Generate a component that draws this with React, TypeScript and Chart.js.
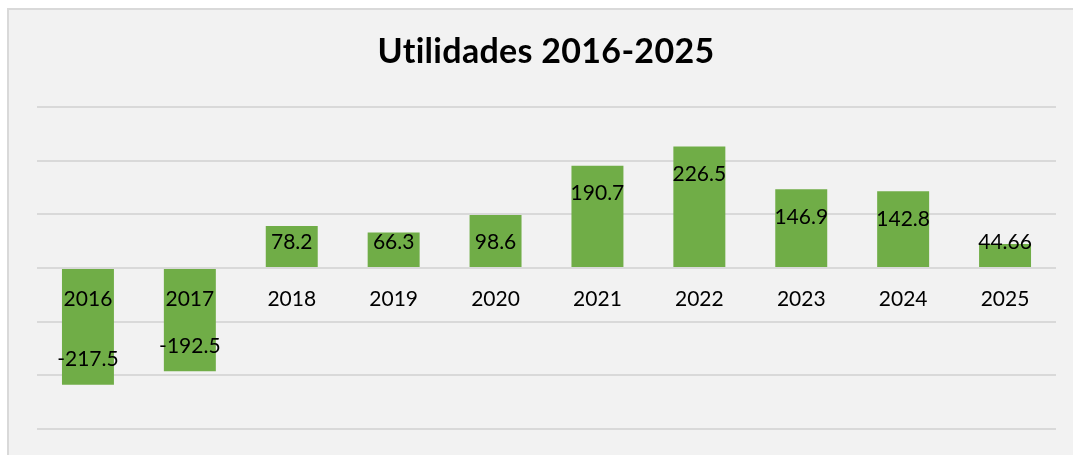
import React, { useEffect, useRef } from "react";
import { Chart, registerables } from "chart.js";

Chart.register(...registerables);

const years = ["2016", "2017", "2018", "2019", "2020", "2021", "2022", "2023", "2024", "2025"];
const utilidades = [-217.5, -192.5, 78.2, 66.3, 98.6, 190.7, 226.5, 146.9, 142.8, 44.66];
const valueLabels = ["-217.5", "-192.5", "78.2", "66.3", "98.6", "190.7", "226.5", "146.9", "142.8", "44.66"];
const yMin = -300;
const yMax = 300;
const yStep = 100;
const titleText = "Utilidades 2016-2025";

const FONT = "Lato, 'Open Sans', sans-serif";

const decorPlugin = {
  id: "decor",
  beforeDraw(chart: any) {
    const { ctx, width, height } = chart;
    ctx.save();
    ctx.fillStyle = "#ffffff";
    ctx.fillRect(0, 0, width, height);
    ctx.fillStyle = "#d9d9d9";
    ctx.fillRect(7, 8, width - 7, height - 8);
    ctx.fillStyle = "#f2f2f2";
    ctx.fillRect(9, 10, width - 9, height - 10);
    ctx.restore();
  },
  afterDatasetsDraw(chart: any) {
    const { ctx } = chart;
    const y = chart.scales.y;
    const x = chart.scales.x;
    const zero = y.getPixelForValue(0);
    ctx.save();
    ctx.fillStyle = "#000000";
    ctx.textAlign = "center";
    ctx.textBaseline = "middle";
    ctx.font = `21px ${FONT}`;
    years.forEach((yr, i) => {
      ctx.fillText(yr, x.getPixelForValue(i), zero + 31);
    });
    utilidades.forEach((v, i) => {
      const end = y.getPixelForValue(v);
      let ly: number;
      if (v >= 0) {
        ly = Math.min(end + 28, zero - 25.5);
      } else {
        ly = Math.max(end - 25, zero + 25.5);
      }
      ctx.fillText(valueLabels[i], x.getPixelForValue(i), ly);
    });
    ctx.font = `bold 34px ${FONT}`;
    (ctx as any).letterSpacing = "0.3px";
    ctx.textBaseline = "alphabetic";
    ctx.fillText(titleText, 546, 63);
    ctx.restore();
  },
};

export default function App() {
  const ref = useRef<HTMLCanvasElement | null>(null);
  useEffect(() => {
    if (!ref.current) return;
    const chart = new Chart(ref.current, {
      type: "bar",
      data: {
        labels: years,
        datasets: [
          {
            data: utilidades,
            backgroundColor: "#70ad47",
            borderWidth: 0,
            categoryPercentage: 1,
            barPercentage: 0.51,
          },
        ],
      },
      options: {
        responsive: false,
        animation: false,
        layout: { padding: { left: 37, right: 17, top: 107, bottom: 26 } },
        plugins: { legend: { display: false }, title: { display: false }, tooltip: { enabled: false } },
        scales: {
          x: { display: false },
          y: {
            min: yMin,
            max: yMax,
            ticks: { display: false, stepSize: yStep },
            border: { display: false },
            grid: { color: "#d9d9d9", lineWidth: 2, drawTicks: false },
            afterFit(scale: any) {
              scale.width = 0;
            },
          },
        },
      },
      plugins: [decorPlugin],
    });
    return () => chart.destroy();
  }, []);
  return (
    <div style={{ position: "fixed", left: 0, top: 0, width: 1073, height: 455 }}>
      <canvas ref={ref} width={1073} height={455} style={{ width: 1073, height: 455, display: "block" }} />
    </div>
  );
}
